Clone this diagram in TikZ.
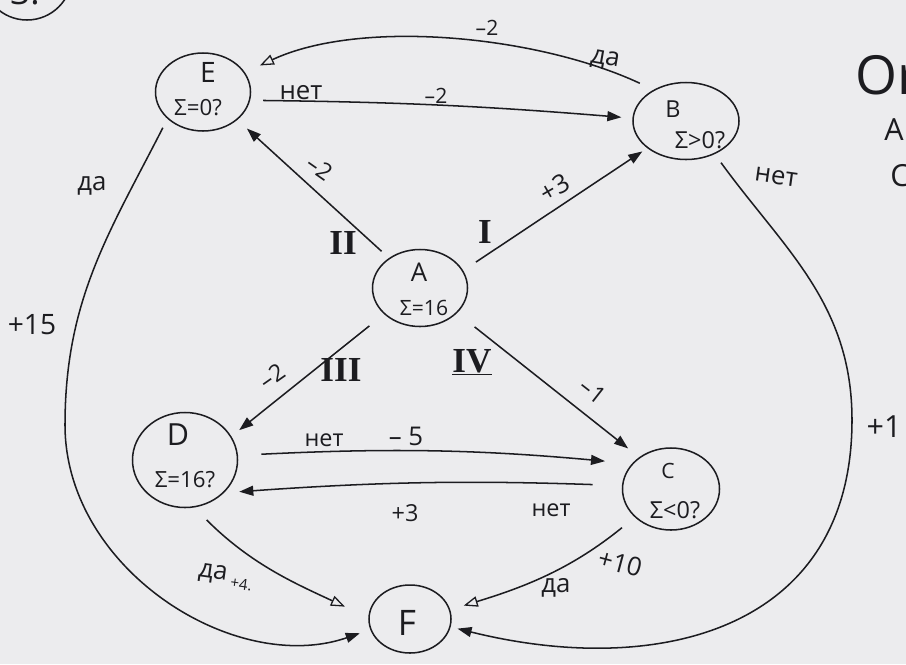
\documentclass[tikz,border=0pt]{standalone}
\usepackage{fontspec}
\setmainfont{Open Sans}
\newfontfamily\romfont{Liberation Serif}
\usetikzlibrary{arrows.meta,shapes.geometric}
\definecolor{ink}{RGB}{28,28,32}
\definecolor{paper}{RGB}{236,236,238}
\newcommand{\fsz}[1]{\fontsize{#1}{#1}\selectfont}
\tikzset{
  st/.style={draw=ink, ellipse, line width=1.3pt, inner sep=0pt},
  ln/.style={line width=1.3pt, draw=ink},
  arr/.style={ln, -{Triangle[length=12pt,width=8.5pt]}},
  oarr/.style={ln, -{Triangle[open,length=12pt,width=9pt,line width=1.1pt]}},
  txt/.style={text=ink, inner sep=0pt},
  rom/.style={text=ink, inner sep=0pt, font=\romfont\bfseries\fsz{30}},
}
\begin{document}
\begin{tikzpicture}[x=0.03cm, y=-0.03cm]
\useasboundingbox (0,0) rectangle (906,664);
\fill[paper] (0,0) rectangle (906,664);
\clip (0,0) rectangle (906,664);

% task number in the corner
\draw[ln] (27,-25) circle[radius=45];
\node[txt, font=\fsz{30}, anchor=base west] (num) at (10,4) {3.};

% notes on the right margin
\node[txt, font=\fsz{46}, anchor=west] (notehead) at (855,75) {Or};
\node[txt, font=\fsz{26}] (noteA) at (894,130) {A};
\node[txt, font=\fsz{26}, anchor=west] (noteC) at (890,176) {C};

% states
\node[st, minimum width=2.85cm, minimum height=2.34cm] (E) at (203,92) {};
\node[st, minimum width=3.18cm, minimum height=2.31cm] (B) at (686,121) {};
\node[st, minimum width=2.85cm, minimum height=2.31cm] (A) at (420,288) {};
\node[st, minimum width=3.15cm, minimum height=2.85cm] (D) at (185,460) {};
\node[st, minimum width=2.91cm, minimum height=2.46cm] (C) at (671,489) {};
\node[st, minimum width=2.46cm, minimum height=2.04cm] (F) at (410,619) {};

% state captions
\node[txt, font=\fsz{24}] (Ename) at (208,72) {E};
\node[txt, font=\fsz{19}] (Esum) at (198,108) {Σ=0?};
\node[txt, font=\fsz{20}] (Bname) at (673,109) {B};
\node[txt, font=\fsz{20}] (Bsum) at (700,140) {Σ>0?};
\node[txt, font=\fsz{22}] (Aname) at (419,272) {A};
\node[txt, font=\fsz{18}] (Asum) at (424,308) {Σ=16};
\node[txt, font=\fsz{26}] (Dname) at (178,435) {D};
\node[txt, font=\fsz{19}] (Dsum) at (185,480) {Σ=16?};
\node[txt, font=\fsz{18}] (Cname) at (668,471) {C};
\node[txt, font=\fsz{20}] (Csum) at (675,510) {Σ<0?};
\node[txt, font=\fsz{30}] (Fname) at (407,623) {F};

% waypoints of the two long loops
\coordinate (k1) at (852,420);
\coordinate (k2) at (65,425);

% moves out of A
\draw[arr, shorten <=13pt, shorten >=5pt] (A.22) -- (B.215);
\draw[arr, shorten <=8.5pt, shorten >=11pt] (A.136) -- (E.321);
\draw[arr, shorten <=16pt, shorten >=8.5pt] (A.216) -- (D.27);
\draw[arr, shorten <=19pt, shorten >=12pt] (A.326) -- (C.135);

% checks and their branches
\draw[arr, shorten <=11pt, shorten >=9.4pt] (E.-10) to[bend left=2] (B.177);
\draw[oarr, shorten <=13pt, shorten >=14pt] (B.136) to[out=155, in=25, looseness=0.8] (E.25);
\draw[arr, shorten <=9pt, shorten >=6pt] (B.-49) to[out=-54, in=90] (k1) to[out=-90, in=-14, looseness=1.2] (F.-11);
\draw[arr, shorten <=8.5pt, shorten >=9.4pt] (E.217) to[out=243, in=90] (k2) to[out=-90, in=199] (F.195);
\draw[arr, shorten <=20pt, shorten >=23pt] (D.5) to[bend left=4] (C.147);
\draw[arr, shorten <=25pt, shorten >=13pt] (C.176) to[bend right=3] (D.-40);
\draw[oarr, shorten <=15pt, shorten >=22pt] (D.-79) to[out=-45, in=155] (F.178);
\draw[oarr, shorten <=14pt, shorten >=12pt] (C.218) to[out=219, in=17] (F.13);

% roman move numbers
\node[rom] (r1) at (485,232) {I};
\node[rom] (r2) at (343,243) {II};
\node[rom] (r3) at (341,370) {III};
\node[rom] (r4) at (472,362) {\underline{IV}};

% edge labels
\node[txt, font=\fsz{22}, rotate=30] (lAB) at (555,188) {+3};
\node[txt, font=\fsz{20}, rotate=-35] (lAE) at (320,168) {–2};
\node[txt, font=\fsz{20}, rotate=35] (lAD) at (272,376) {–2};
\node[txt, font=\fsz{20}, rotate=-38] (lAC) at (593,391) {–1};

\node[txt, font=\fsz{22}] (lEBno) at (301,93) {нет};
\node[txt, font=\fsz{18}] (lEBv) at (436,96) {–2};
\node[txt, font=\fsz{18}] (lBEv) at (487,28) {–2};
\node[txt, font=\fsz{22}, rotate=-10] (lBEyes) at (605,60) {да};
\node[txt, font=\fsz{22}, rotate=-8] (lBFno) at (776,177) {нет};
\node[txt, font=\fsz{26}] (lBFv) at (884,427) {+1};
\node[txt, font=\fsz{22}] (lEFyes) at (92,186) {да};
\node[txt, font=\fsz{24}] (lEFv) at (32,325) {+15};
\node[txt, font=\fsz{20}] (lDCno) at (324,440) {нет};
\node[txt, font=\fsz{22}] (lDCv) at (406,436) {– 5};
\node[txt, font=\fsz{20}] (lCDv) at (405,513) {+3};
\node[txt, font=\fsz{20}] (lCDno) at (551,510) {нет};
\node[txt, font=\fsz{22}, rotate=-8, anchor=west] (lDF) at (198,573) {да\,\raisebox{-0.5ex}{\fsz{13}+4.}};
\node[txt, font=\fsz{22}, rotate=-15] (lCFv) at (620,563) {+10};
\node[txt, font=\fsz{22}] (lCFyes) at (556,588) {да};
\end{tikzpicture}
\end{document}
